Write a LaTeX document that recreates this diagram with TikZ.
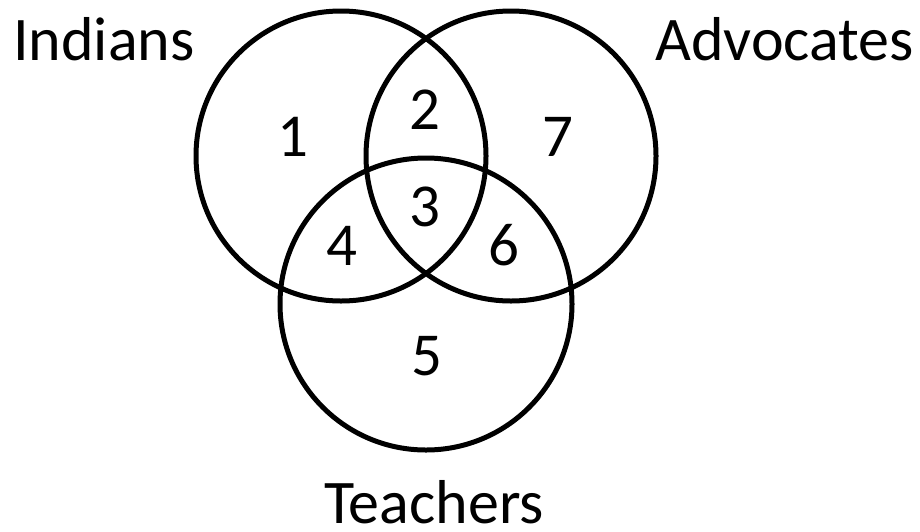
\documentclass[tikz,border=0pt]{standalone}
\usepackage{fontspec}
\setmainfont{Carlito}
\begin{document}
\begin{tikzpicture}[x=1pt,y=-1pt,
  ring/.style={line width=5pt,draw=black},
  setlabel/.style={inner sep=0pt,font=\fontsize{62}{74}\selectfont},
  region/.style={inner sep=0pt,anchor=base,font=\fontsize{61}{72}\selectfont}]
\useasboundingbox (0,0) rectangle (920,531);
\draw[ring] (341,156) circle[radius=145];
\draw[ring] (511,156) circle[radius=145];
\draw[ring] (426,304) circle[radius=146];
\node[setlabel,anchor=base west] (ind) at (13,60.7) {Indians};
\node[setlabel,anchor=base east] (adv) at (914,60.7) {Advocates};
\node[setlabel,anchor=base] (tea) at (434,523) {Teachers};
\node[region] (r1) at (293,156.7) {1};
\node[region] (r2) at (425,129) {2};
\node[region] (r3) at (425,226.7) {3};
\node[region] (r4) at (342,265) {4};
\node[region] (r5) at (427,375) {5};
\node[region] (r6) at (504,265) {6};
\node[region] (r7) at (558,156.7) {7};
\end{tikzpicture}
\end{document}
